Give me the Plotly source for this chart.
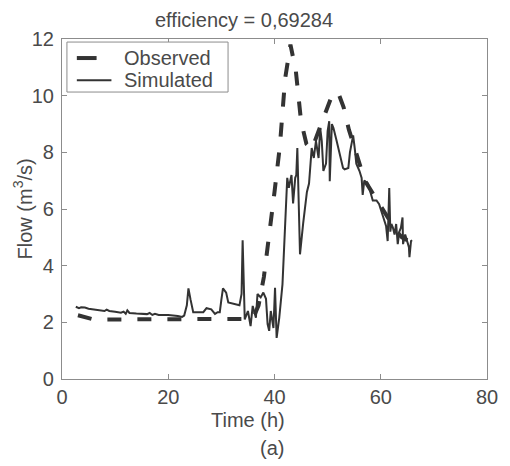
import plotly.graph_objects as go

# Observed flow (m3/s), hourly
obs_t = [3, 4, 5, 6, 8, 10, 12, 14, 16, 18, 20, 22, 24, 26, 28, 30, 32, 34, 36,
         37, 38, 39, 40, 41, 42, 43, 44, 45, 46, 47, 48, 49, 50, 51, 52, 53, 54,
         55, 56, 57, 58, 59, 60, 61, 62, 63, 64, 65]
obs_v = [2.25, 2.2, 2.12, 2.1, 2.1, 2.1, 2.1, 2.1, 2.1, 2.1, 2.1, 2.1, 2.1, 2.1, 2.1, 2.1, 2.1, 2.12, 2.15,
         2.6, 3.6, 5.0, 6.6, 8.2, 10.6, 11.8, 10.9, 9.1, 8.3, 8.1, 8.6, 9.1, 9.6, 10.1, 10.1, 9.6, 8.8,
         8.2, 7.5, 7.0, 6.7, 6.4, 6.1, 5.8, 5.5, 5.2, 5.0, 4.9]

# Simulated flow (m3/s)
sim_t = [2.6, 3.2, 3.6, 4.3, 5.0, 6.0, 7.0, 7.6, 8.0, 8.4, 8.9, 10.0, 11.1, 11.6, 12.0, 12.3, 12.7,
         14.0, 16.0, 16.5, 17.0, 17.5, 18.2, 20.0, 21.3, 21.8, 22.6, 23.0, 23.5, 23.8, 24.2, 24.7,
         26.6, 27.2, 28.1, 28.8, 29.3, 29.7, 30.0, 30.3, 30.9, 31.3, 33.4, 33.8, 34.0, 34.4, 35.0,
         35.5, 35.9, 36.5, 36.8, 37.4, 37.9, 38.4, 38.7, 39.0, 39.3, 39.8, 40.1, 40.4, 40.9, 41.5,
         42.4, 42.7, 43.2, 43.5, 43.9, 44.1, 44.3, 44.8, 45.4, 45.8, 46.1, 46.5, 46.8, 47.0, 47.4,
         47.8, 48.3, 48.6, 48.9, 49.2, 49.7, 50.0, 50.3, 50.4, 50.8, 51.1, 51.7, 52.0, 52.6, 52.9,
         53.2, 53.9, 54.2, 54.5, 54.8, 55.1, 55.4, 56.0, 56.4, 56.6, 56.9, 57.6, 58.2, 58.5, 59.2,
         59.7, 60.1, 60.7, 61.0, 61.3, 61.6, 61.8, 62.0, 62.3, 62.6, 62.9, 63.2, 63.5, 63.8, 64.1,
         64.2, 64.6, 65.0, 65.3, 65.4, 65.7, 65.9]
sim_v = [2.55, 2.5, 2.53, 2.52, 2.48, 2.46, 2.44, 2.43, 2.4, 2.45, 2.4, 2.37, 2.34, 2.38, 2.3, 2.42, 2.33,
         2.31, 2.29, 2.33, 2.26, 2.3, 2.26, 2.26, 2.25, 2.22, 2.19, 2.24, 2.6, 3.2, 2.8, 2.36,
         2.36, 2.5, 2.46, 2.3, 2.36, 2.36, 2.8, 3.2, 3.05, 2.7, 2.6, 3.0, 4.9, 2.1, 2.4,
         1.87, 2.58, 2.16, 3.0, 2.88, 3.05, 2.83, 1.94, 1.7, 2.4, 1.8, 3.22, 1.45, 2.17, 3.34,
         7.1, 6.75, 7.2, 6.2, 7.1, 7.2, 8.15, 4.4, 5.5, 6.2, 6.6, 6.9, 7.6, 8.15, 7.8,
         8.4, 7.8, 8.86, 8.4, 7.34, 7.6, 8.75, 9.1, 6.98, 9.0, 8.86, 8.4, 8.15, 7.6, 7.45,
         7.4, 7.45, 8.0, 8.3, 8.6, 8.15, 7.6, 7.34, 7.1, 6.5, 7.0, 6.9, 6.5, 6.3, 6.3,
         6.17, 5.93, 5.58, 5.4, 4.87, 6.74, 5.2, 5.47, 5.34, 5.1, 5.47, 4.76, 5.2, 5.34, 5.7,
         4.76, 5.1, 4.87, 4.65, 4.3, 4.87, 4.9]

x_ticks = [0, 20, 40, 60, 80]
y_ticks = [0, 2, 4, 6, 8, 10, 12]
legend_names = ["Observed", "Simulated"]

FONT = "Liberation Sans, Arial, sans-serif"
TXT = "#4a4a4a"
AX = "#8c8c8c"
LINE = "#333333"

fig = go.Figure()
fig.add_trace(go.Scatter(x=obs_t, y=obs_v, mode="lines", name=legend_names[0],
                         line=dict(color=LINE, width=4, dash="14px,16px")))
fig.add_trace(go.Scatter(x=sim_t, y=sim_v, mode="lines", name=legend_names[1],
                         line=dict(color=LINE, width=2)))

axis_common = dict(showline=True, linecolor=AX, linewidth=1.2, mirror="ticks",
                   ticks="inside", ticklen=5, tickcolor=AX, tickwidth=1,
                   showgrid=False, zeroline=False,
                   tickfont=dict(family=FONT, size=20, color=TXT))

# legend drawn as a boxed key in paper coordinates
shapes = [
    dict(type="rect", xref="paper", yref="paper", x0=0.0116, x1=0.3907, y0=0.844, y1=0.991,
         line=dict(color=AX, width=1), fillcolor="white", layer="above"),
    dict(type="line", xref="paper", yref="paper", x0=0.0349, x1=0.0814, y0=0.944, y1=0.944,
         line=dict(color=LINE, width=4), layer="above"),
    dict(type="line", xref="paper", yref="paper", x0=0.0349, x1=0.1163, y0=0.879, y1=0.879,
         line=dict(color=LINE, width=2), layer="above"),
]

annotations = [
    dict(text="efficiency = 0,69284", x=0.428, y=1.056, xref="paper", yref="paper",
         showarrow=False, xanchor="center", yanchor="middle",
         font=dict(family=FONT, size=20, color=TXT)),
    dict(text="Time (h)", x=0.437, y=-0.121, xref="paper", yref="paper",
         showarrow=False, xanchor="center", yanchor="middle",
         font=dict(family=FONT, size=20, color=TXT)),
    dict(text="(a)", x=0.495, y=-0.203, xref="paper", yref="paper",
         showarrow=False, xanchor="center", yanchor="middle",
         font=dict(family=FONT, size=20, color=TXT)),
    dict(text="Flow (m<sup>3</sup>/s)", x=-0.093, y=0.5, xref="paper", yref="paper",
         showarrow=False, xanchor="center", yanchor="middle", textangle=-90,
         font=dict(family=FONT, size=20, color=TXT)),
    dict(text=legend_names[0], x=0.1419, y=0.944, xref="paper", yref="paper",
         showarrow=False, xanchor="left", yanchor="middle",
         font=dict(family=FONT, size=20, color=TXT)),
    dict(text=legend_names[1], x=0.1419, y=0.879, xref="paper", yref="paper",
         showarrow=False, xanchor="left", yanchor="middle",
         font=dict(family=FONT, size=20, color=TXT)),
]

fig.update_layout(
    width=510, height=466,
    margin=dict(l=62, r=18, t=39, b=87),
    paper_bgcolor="white", plot_bgcolor="white",
    font=dict(family=FONT, size=20, color=TXT),
    xaxis=dict(range=[0, 80], tickvals=x_ticks, **axis_common),
    yaxis=dict(range=[0, 12], tickvals=y_ticks, ticklabelstandoff=3, **axis_common),
    showlegend=False,
    shapes=shapes,
    annotations=annotations,
)

fig.write_html("out.html")
